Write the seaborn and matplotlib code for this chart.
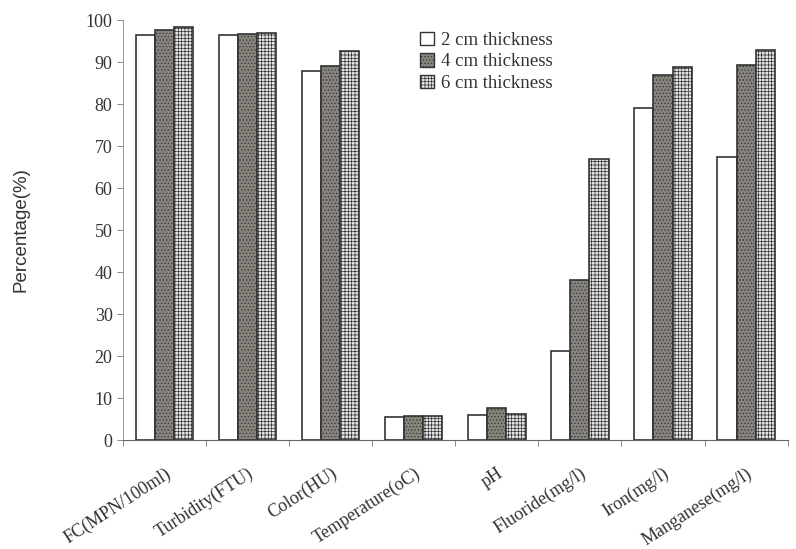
import numpy as np
import pandas as pd
import matplotlib
matplotlib.use('Agg')
import matplotlib.pyplot as plt
import matplotlib.patches as mpatches
import seaborn as sns

# ── data ─────────────────────────────────────────────────────────────────────
params = ['FC(MPN/100ml)', 'Turbidity(FTU)', 'Color(HU)', 'Temperature(oC)',
          'pH', 'Fluoride(mg/l)', 'Iron(mg/l)', 'Manganese(mg/l)']
series = ['2 cm thickness', '4 cm thickness', '6 cm thickness']
cm2 = [96.4, 96.4, 87.8, 5.5, 6.0, 21.3, 79.0, 67.3]
cm4 = [97.6, 96.7, 89.0, 5.7, 7.6, 38.0, 87.0, 89.3]
cm6 = [98.3, 97.0, 92.7, 5.7, 6.1, 67.0, 88.8, 92.8]

df = pd.DataFrame({
    'Parameter': params * 3,
    'Series': np.repeat(series, len(params)),
    'Value': cm2 + cm4 + cm6,
})

# ── style ────────────────────────────────────────────────────────────────────
sns.set_theme(style='ticks')
plt.rcParams['font.family'] = ['Liberation Serif', 'DejaVu Serif']

styles = {
    '2 cm thickness': dict(facecolor='white', hatch=None),
    '4 cm thickness': dict(facecolor='#86847c', hatch='.....'),
    '6 cm thickness': dict(facecolor='#e4e4e4', hatch='+++++'),
}
plt.rcParams['hatch.color'] = '#6a6a6a'
plt.rcParams['hatch.linewidth'] = 0.5

fig = plt.figure(figsize=(7.96, 5.49), dpi=100)
ax = fig.add_axes([0.1545, 0.1985, 0.835, 0.765])

sns.barplot(data=df, x='Parameter', y='Value', hue='Series', order=params,
            hue_order=series, width=0.69, gap=0, ax=ax, legend=False,
            palette=['white'] * 3, edgecolor='#333333', linewidth=1.2,
            saturation=1)

n = len(params)
for i, s in enumerate(series):
    for bar in ax.patches[i * n:(i + 1) * n]:
        bar.set_facecolor(styles[s]['facecolor'])
        if styles[s]['hatch']:
            bar.set_hatch(styles[s]['hatch'])

ax.set_xlim(-0.5, n - 0.5)
ax.set_ylim(0, 100)
ax.set_yticks(np.arange(0, 101, 10))
ax.tick_params(axis='y', labelsize=13, length=4, width=0.6, color='#777777',
               labelcolor='#333333')
ax.set_xticks(np.arange(n))
ax.set_xticklabels(params, rotation=33, ha='right', rotation_mode='anchor',
                   fontsize=13, color='#333333')
ax.tick_params(axis='x', length=0, pad=18)
ax.set_xticks(np.arange(-0.5, n, 1), minor=True)
ax.tick_params(axis='x', which='minor', length=4, width=0.6, color='#777777')

for side in ['top', 'right']:
    ax.spines[side].set_visible(False)
ax.spines['left'].set_color('#888888')
ax.spines['left'].set_linewidth(0.6)
ax.spines['bottom'].set_color('#666666')
ax.spines['bottom'].set_linewidth(0.8)

ax.set_xlabel('')
ax.set_ylabel('Percentage(%)', fontsize=13.5, family=['Liberation Sans'],
              color='#333333')
ax.yaxis.set_label_coords(-0.14, 0.5)

handles = [mpatches.Patch(facecolor=styles[s]['facecolor'],
                          hatch=styles[s]['hatch'], edgecolor='#333333',
                          linewidth=1.0, label=s) for s in series]
leg = ax.legend(handles=handles, loc='upper left', bbox_to_anchor=(0.433, 0.995),
                frameon=False, fontsize=13.5, handlelength=0.75, handleheight=0.75,
                handletextpad=0.35, labelspacing=0.22, borderpad=0)
for t in leg.get_texts():
    t.set_color('#333333')

fig.savefig('out.png', dpi=100)
